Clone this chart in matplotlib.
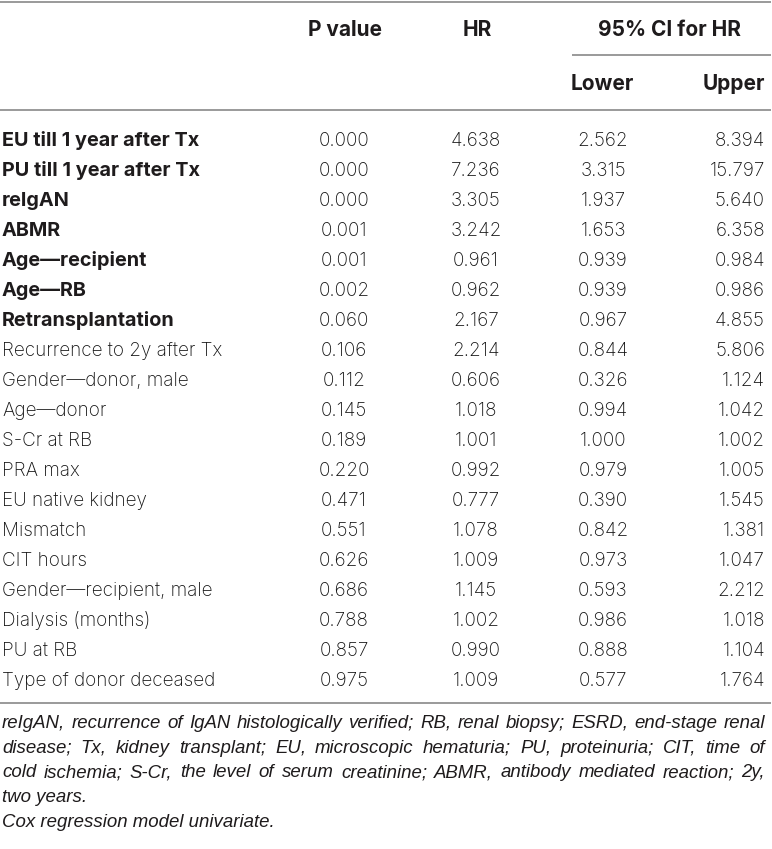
import matplotlib
matplotlib.use("Agg")
import matplotlib.pyplot as plt

variables = ["EU till 1 year after Tx", "PU till 1 year after Tx", "reIgAN", "ABMR",
             "Age\u2014recipient", "Age\u2014RB", "Retransplantation",
             "Recurrence to 2y after Tx", "Gender\u2014donor, male", "Age\u2014donor",
             "S-Cr at RB", "PRA max", "EU native kidney", "Mismatch", "CIT hours",
             "Gender\u2014recipient, male", "Dialysis (months)", "PU at RB",
             "Type of donor deceased"]
bold_rows = [True] * 7 + [False] * 12
p_value = ["0.000", "0.000", "0.000", "0.001", "0.001", "0.002", "0.060", "0.106", "0.112",
           "0.145", "0.189", "0.220", "0.471", "0.551", "0.626", "0.686", "0.788", "0.857", "0.975"]
hr = ["4.638", "7.236", "3.305", "3.242", "0.961", "0.962", "2.167", "2.214", "0.606",
      "1.018", "1.001", "0.992", "0.777", "1.078", "1.009", "1.145", "1.002", "0.990", "1.009"]
lower = ["2.562", "3.315", "1.937", "1.653", "0.939", "0.939", "0.967", "0.844", "0.326",
         "0.994", "1.000", "0.979", "0.390", "0.842", "0.973", "0.593", "0.986", "0.888", "0.577"]
upper = ["8.394", "15.797", "5.640", "6.358", "0.984", "0.986", "4.855", "5.806", "1.124",
         "1.042", "1.002", "1.005", "1.545", "1.381", "1.047", "2.212", "1.018", "1.104", "1.764"]
headers = ["P value", "HR", "95% CI for HR"]
subheaders = ["Lower", "Upper"]
footnotes = [
    "reIgAN, recurrence of IgAN histologically verified; RB, renal biopsy; ESRD, end-stage renal",
    "disease; Tx, kidney transplant; EU, microscopic hematuria; PU, proteinuria; CIT, time of",
    "cold ischemia; S-Cr, the level of serum creatinine; ABMR, antibody mediated reaction; 2y,",
    "two years.",
    "Cox regression model univariate.",
]
justified = [True, True, True, False, False]

W, H = 772, 849
fig = plt.figure(figsize=(W / 100, H / 100), dpi=100)
ax = fig.add_axes([0, 0, 1, 1])
ax.set_xlim(0, W)
ax.set_ylim(H, 0)
ax.axis("off")

TFONT = ["Inter", "Liberation Sans", "DejaVu Sans"]
FFONT = ["Liberation Sans", "DejaVu Sans"]
txt_col = "#1e1b1c"
num_col = "#141414"
line_col = "#9a9a9a"
fs_body = 13.6
fs_bold = 14.3
fs_head = 15.0
fs_foot = 13.4

# rules
for (x0, x1, y) in [(0, 771, 1.5), (572, 771, 55), (0, 771, 110), (0, 771, 703)]:
    ax.plot([x0, x1], [y, y], color=line_col, lw=1.4, solid_capstyle="butt")

# headers
hkw = dict(va="baseline", fontsize=fs_head, fontweight="bold", family=TFONT, color=txt_col)
ax.text(345, 36, headers[0], ha="center", **hkw)
ax.text(477, 36, headers[1], ha="center", **hkw)
ax.text(670, 36, headers[2], ha="center", **hkw)
ax.text(602, 90, subheaders[0], ha="center", **hkw)
ax.text(765, 90, subheaders[1], ha="right", **hkw)

y0, dy = 146, 30
for i, name in enumerate(variables):
    y = y0 + i * dy
    if bold_rows[i]:
        ax.text(2, y, name, ha="left", va="baseline", fontsize=fs_bold,
                fontweight="bold", family=TFONT, color=txt_col)
    else:
        ax.text(2, y, name, ha="left", va="baseline", fontsize=fs_body,
                fontweight="light", family=TFONT, color=num_col)
    nkw = dict(va="baseline", fontsize=fs_body, fontweight="light", family=TFONT, color=num_col)
    ax.text(344, y, p_value[i], ha="center", **nkw)
    ax.text(476, y, hr[i], ha="center", **nkw)
    ax.text(603, y, lower[i], ha="center", **nkw)
    ax.text(765, y, upper[i], ha="right", **nkw)

# footnotes (first three lines justified)
fig.canvas.draw()
renderer = fig.canvas.get_renderer()
left, right = 2, 765
fkw = dict(va="baseline", fontsize=fs_foot, style="italic", family=FFONT, color=txt_col)
for j, line in enumerate(footnotes):
    yb = 728 + j * 24.7
    if not justified[j]:
        ax.text(left, yb, line, ha="left", **fkw)
        continue
    words = line.split(" ")
    arts = [ax.text(0, yb, w, ha="left", **fkw) for w in words]
    widths = [a.get_window_extent(renderer).width for a in arts]
    gap = (right - left - sum(widths)) / (len(words) - 1)
    x = left
    for a, wdt in zip(arts, widths):
        a.set_x(x)
        x += wdt + gap

fig.savefig("out.png", dpi=100)
